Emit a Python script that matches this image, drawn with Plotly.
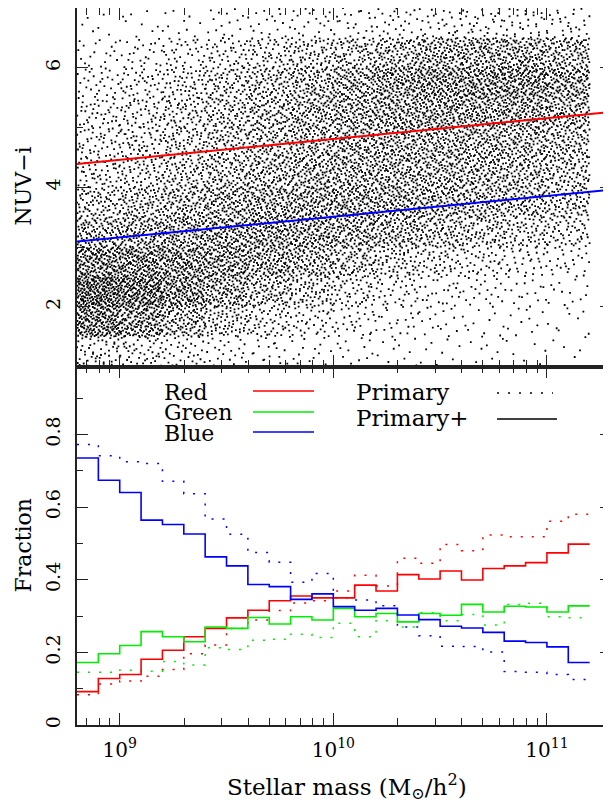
import plotly.graph_objects as go

# ---------------- data ----------------
# Fraction histograms: bins of log10(M*) 0.1 dex wide
bin_edges_logm = [8.8, 8.9, 9.0, 9.1, 9.2, 9.3, 9.4, 9.5, 9.6, 9.7, 9.8, 9.9, 10.0,
                  10.1, 10.2, 10.3, 10.4, 10.5, 10.6, 10.7, 10.8, 10.9, 11.0, 11.1, 11.2]

# "Primary+" (solid)
red_primary_plus = [0.092, 0.128, 0.139, 0.181, 0.206, 0.243, 0.266, 0.295, 0.316, 0.342, 0.355, 0.350,
                    0.350, 0.385, 0.369, 0.414, 0.402, 0.424, 0.399, 0.431, 0.438, 0.447, 0.474, 0.498]
green_primary_plus = [0.172, 0.196, 0.219, 0.257, 0.243, 0.229, 0.270, 0.266, 0.296, 0.278, 0.298, 0.289,
                      0.321, 0.298, 0.307, 0.284, 0.307, 0.302, 0.332, 0.311, 0.327, 0.325, 0.311, 0.328]
blue_primary_plus = [0.735, 0.674, 0.640, 0.564, 0.552, 0.526, 0.463, 0.438, 0.387, 0.381, 0.346, 0.361,
                     0.326, 0.316, 0.321, 0.303, 0.290, 0.272, 0.267, 0.255, 0.231, 0.227, 0.215, 0.172]

# "Primary" (dotted)
red_primary = [0.083, 0.113, 0.121, 0.134, 0.153, 0.196, 0.220, 0.266, 0.289, 0.315, 0.336, 0.342,
               0.369, 0.412, 0.383, 0.459, 0.445, 0.497, 0.480, 0.523, 0.518, 0.518, 0.561, 0.580]
green_primary = [0.145, 0.145, 0.151, 0.148, 0.175, 0.165, 0.213, 0.208, 0.233, 0.236, 0.250, 0.241,
                 0.280, 0.243, 0.287, 0.270, 0.309, 0.287, 0.304, 0.275, 0.332, 0.335, 0.298, 0.295]
blue_primary = [0.772, 0.741, 0.725, 0.720, 0.671, 0.637, 0.567, 0.525, 0.475, 0.448, 0.393, 0.417,
                0.350, 0.344, 0.328, 0.270, 0.246, 0.217, 0.216, 0.201, 0.147, 0.145, 0.139, 0.125]

# Colour cuts in the top panel (straight lines in log mass)
cut_logm = [8.8, 11.3]
red_cut = [4.39, 5.26]
blue_cut = [3.09, 3.96]

# Scatter: estimated number of galaxies per cell (read as densities from the picture)
density_logm_edges = [8.8, 9.0, 9.2, 9.4, 9.6, 9.8, 10.0, 10.2, 10.4, 10.6, 10.8, 11.0, 11.2]
density_color_edges = [7.0, 6.5, 6.0, 5.5, 5.0, 4.5, 4.0, 3.5, 3.0, 2.5, 2.0, 1.5, 1.0]  # top to bottom
# one column per mass bin, rows from NUV-i 7.0 down to 1.0
density_counts = [
    [6, 18, 30, 40, 45, 52, 75, 110, 180, 250, 200, 50],
    [8, 25, 40, 50, 55, 62, 90, 120, 180, 220, 160, 45],
    [10, 35, 55, 65, 70, 78, 105, 130, 165, 170, 110, 32],
    [14, 45, 70, 80, 82, 92, 120, 140, 150, 130, 75, 22],
    [18, 58, 88, 95, 95, 105, 130, 145, 135, 95, 52, 18],
    [20, 70, 105, 112, 110, 115, 135, 138, 110, 72, 38, 14],
    [22, 82, 125, 125, 120, 120, 135, 125, 88, 50, 28, 12],
    [25, 100, 145, 135, 122, 120, 130, 110, 66, 35, 20, 10],
    [28, 118, 160, 140, 122, 115, 118, 92, 50, 25, 15, 8],
    [30, 125, 165, 140, 118, 110, 108, 78, 40, 20, 12, 7],
    [30, 125, 165, 135, 112, 102, 98, 66, 32, 16, 10, 6],
    [26, 105, 140, 118, 96, 86, 82, 56, 25, 12, 8, 5],
]

x_tick_vals = [1e9, 1e10, 1e11]
x_tick_text = ["10<sup>9</sup>", "10<sup>10</sup>", "10<sup>11</sup>"]

# ---------------- place the counted points inside their cells ----------------
def halton(i, b):
    f, r = 1.0, 0.0
    while i > 0:
        f /= b
        r += f * (i % b)
        i //= b
    return r

sx, sy = [], []
k = 1
for ci, col in enumerate(density_counts):
    x0, x1 = density_logm_edges[ci], density_logm_edges[ci + 1]
    for ri, n in enumerate(col):
        y0, y1 = density_color_edges[ri + 1], density_color_edges[ri]
        for _ in range(n):
            u = halton(k, 2)
            w = halton(k, 3)
            k += 1
            sx.append(10 ** (x0 + u * (x1 - x0)))
            sy.append(y0 + w * (y1 - y0))

FONT = "DejaVu Serif"
AX = "#222222"
RED, GREEN, BLUE = "#ff0000", "#00ee00", "#0000ff"

fig = go.Figure()

fig.add_trace(go.Scatter(x=sx, y=sy, mode="markers", xaxis="x", yaxis="y",
                         marker=dict(size=1.8, symbol="square", color="black", line=dict(width=0)),
                         showlegend=False, hoverinfo="skip"))
fig.add_trace(go.Scatter(x=[10 ** v for v in cut_logm], y=red_cut, mode="lines",
                         xaxis="x", yaxis="y", line=dict(color=RED, width=2), showlegend=False))
fig.add_trace(go.Scatter(x=[10 ** v for v in cut_logm], y=blue_cut, mode="lines",
                         xaxis="x", yaxis="y", line=dict(color=BLUE, width=2), showlegend=False))

edges_x = [10 ** v for v in bin_edges_logm]

def step(vals, color, dotted):
    fig.add_trace(go.Scatter(
        x=edges_x, y=list(vals) + [vals[-1]], mode="lines", line_shape="hv",
        xaxis="x2", yaxis="y2",
        line=dict(color=color, width=1.5 if dotted else 1.6, dash="2px,9px" if dotted else "solid"),
        showlegend=False))

step(red_primary, RED, True)
step(green_primary, GREEN, True)
step(blue_primary, BLUE, True)
step(red_primary_plus, RED, False)
step(green_primary_plus, GREEN, False)
step(blue_primary_plus, BLUE, False)

minor_x = [m * 10 ** e for e in (8, 9, 10, 11) for m in range(2, 10) if 6.3e8 < m * 10 ** e < 2e11]

xcommon = dict(type="log", range=[8.8, 11.3], showgrid=False, zeroline=False, automargin=False,
               showline=True, linecolor=AX, linewidth=1.5, mirror="allticks",
               ticks="inside", ticklen=12, tickwidth=1.2, tickcolor=AX,
               tickmode="array", tickvals=x_tick_vals, ticktext=x_tick_text,
               minor=dict(tickmode="array", tickvals=minor_x, ticks="inside", ticklen=7,
                          tickwidth=1.2, tickcolor=AX),
               tickfont=dict(family=FONT, size=20, color="black"))

ycommon = dict(showgrid=False, zeroline=False, showline=True, linecolor=AX, linewidth=1.5,
               automargin=False,
               mirror="allticks", ticks="inside", ticklen=11, tickwidth=1.2, tickcolor=AX,
               tickangle=-90, tickfont=dict(family=FONT, size=19, color="black"),
               ticklabelstandoff=8)

# the page adds an 8 px body margin, so the figure is 8 px smaller and offset
FIG_W, FIG_H = 603, 798
fig.update_layout(
    width=FIG_W, height=FIG_H,
    margin=dict(l=69, r=0, t=0, b=81, autoexpand=False),
    paper_bgcolor="white", plot_bgcolor="white",
    xaxis=dict(xcommon, domain=[0, 1], anchor="y", showticklabels=False),
    xaxis2=dict(xcommon, domain=[0, 1], anchor="y2", ticklabelstandoff=6),
    yaxis=dict(ycommon, domain=[0.5, 1], anchor="x", range=[1, 7],
               tickmode="array", tickvals=[2, 4, 6], ticktext=["2", "4", "6"],
               minor=dict(tickmode="array", tickvals=[3, 5], ticks="inside", ticklen=6,
                          tickwidth=1.2, tickcolor=AX)),
    yaxis2=dict(ycommon, domain=[0, 0.5], anchor="x2", range=[0, 0.987],
                tickmode="array", tickvals=[0, 0.2, 0.4, 0.6, 0.8],
                ticktext=["0", "0.2", "0.4", "0.6", "0.8"],
                minor=dict(tickmode="array", tickvals=[0.1, 0.3, 0.5, 0.7, 0.9], ticks="inside",
                           ticklen=6, tickwidth=1.2, tickcolor=AX)),
)

def px2paper(px, py):
    # page pixel -> paper fraction
    return (px - 77) / 534.0, (725 - py) / 717.0

ann = []
def text(s, px, py, angle=0, xanchor="left", size=22):
    xp, yp = px2paper(px, py)
    ann.append(dict(text=s, x=xp, y=yp, xref="paper", yref="paper", showarrow=False,
                    xanchor=xanchor, yanchor="middle", textangle=angle,
                    font=dict(family=FONT, size=size, color="black")))

text("NUV−i", 23, 186.5, angle=-90, xanchor="center", size=22)
text("Fraction", 23, 545.5, angle=-90, xanchor="center", size=22)
text("Stellar mass (M<sub>⊙</sub>/h<sup>2</sup>)", 347, 786, xanchor="center", size=23)
text("Red", 162, 392)
text("Green", 162, 412)
text("Blue", 162, 433)
text("Primary", 354, 392, size=23)
text("Primary+", 354, 418, size=23)
fig.update_layout(annotations=ann)

shapes = []
def seg(px0, px1, py, color, dash="solid"):
    x0, y = px2paper(px0, py)
    x1, _ = px2paper(px1, py)
    shapes.append(dict(type="line", xref="paper", yref="paper", x0=x0, x1=x1, y0=y, y1=y,
                       line=dict(color=color, width=1.3, dash=dash)))

seg(253, 314, 391, RED)
seg(253, 314, 412, GREEN)
seg(253, 314, 432, BLUE)
seg(497, 553, 393, "black", "2px,9px")
seg(497, 557, 419, "black")
fig.update_layout(shapes=shapes)

fig.write_html("out.html")
